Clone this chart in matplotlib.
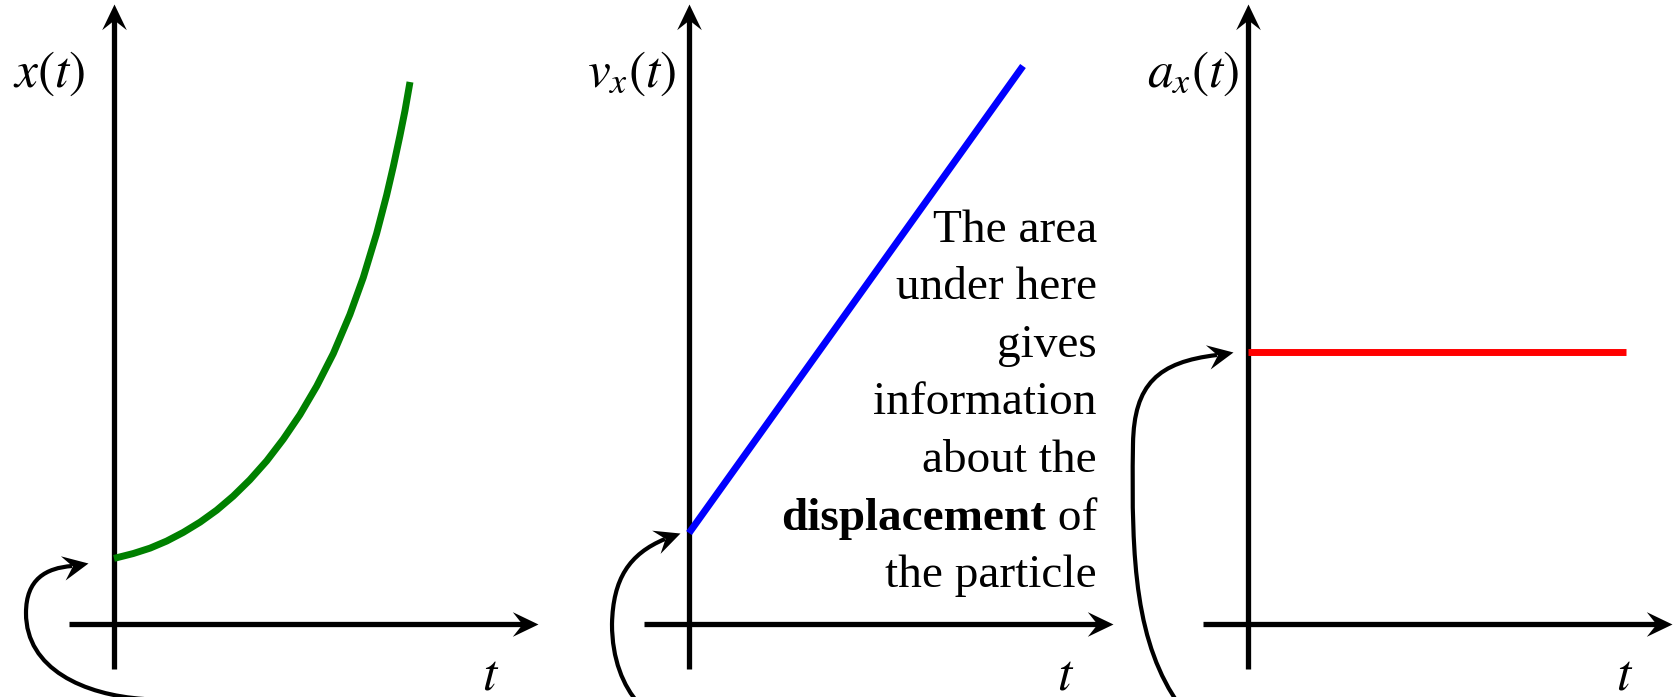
import numpy as np
import matplotlib
matplotlib.use("Agg")
import matplotlib.pyplot as plt
from matplotlib.path import Path
from matplotlib.patches import PathPatch

plt.rcParams['mathtext.fontset'] = 'stix'
plt.rcParams['font.family'] = ['Liberation Serif', 'DejaVu Serif']

# position x(t), points
t_pos = [0.0, 0.065, 0.122, 0.178, 0.234, 0.291, 0.347, 0.403, 0.459, 0.516, 0.572,
         0.628, 0.685, 0.741, 0.797, 0.842, 0.887, 0.921, 0.944, 0.966, 0.983, 1.0]
x_pos = [1.21, 1.30, 1.40, 1.53, 1.69, 1.88, 2.10, 2.36, 2.66, 3.01, 3.41,
         3.86, 4.39, 4.99, 5.71, 6.39, 7.20, 7.91, 8.45, 9.01, 9.47, 10.0]

# velocity v_x(t)
t_vel = [0.0, 1.0]
v_vel = [1.63, 10.0]

# acceleration a_x(t)
t_acc = [0.0, 1.0]
a_acc = [5.0, 5.0]

series_colors = ['green', 'blue', 'red']
y_labels = [r'$x(t)$', r'$v_x(t)$', r'$a_x(t)$']
t_label = r'$t$'

note_lines = ['The area', 'under here', 'gives', 'information', 'about the', ' of', 'the particle']
note_bold = 'displacement'   # goes in front of line 6

# ---- layout (pixels) ----
W, H = 1674, 697
OY = 624
panels = [
    dict(left=0, right=560, ox=114, t_px=296, v_px=54.2, lab_dx=-65),
    dict(left=560, right=1120, ox=689, t_px=334, v_px=55.8, lab_dx=-57),
    dict(left=1120, right=1674, ox=1248, t_px=378, v_px=54.4, lab_dx=-55),
]

# curved arrows, pixel offsets from each panel origin (y up)
curve_arrows = [
    dict(verts=[(30, -75), (-30, -71), (-88, -45), (-88, 11),
                (-88, 45), (-68, 56), (-42, 58)],
         codes=[1, 4, 4, 4, 4, 4, 4], tip=(-26, 61), ang=11),
    dict(verts=[(-50, -80), (-66, -62), (-77, -35), (-77, 0),
                (-76, 45), (-60, 70), (-24, 85)],
         codes=[1, 4, 4, 4, 4, 4, 4], tip=(-9, 91), ang=20),
    dict(verts=[(-68, -82), (-112, -20), (-117, 60), (-115, 180),
                (-114, 240), (-90, 262), (-31, 269)],
         codes=[1, 4, 4, 4, 4, 4, 4], tip=(-15, 272), ang=11),
]

HEAD_MS = 37.0


def head(ax, x, y, ang):
    v = np.array([[0, 0], [-1, 0.48], [-0.62, 0], [-1, -0.48], [0, 0]], float)
    a = np.deg2rad(ang)
    rot = np.array([[np.cos(a), -np.sin(a)], [np.sin(a), np.cos(a)]])
    v = v @ rot.T
    scale = np.abs(v).max()
    p = Path(v, [Path.MOVETO, Path.LINETO, Path.LINETO, Path.LINETO, Path.CLOSEPOLY])
    ax.plot([x], [y], marker=p, ms=HEAD_MS * scale, color='black', mew=0,
            clip_on=False, zorder=5)


fig = plt.figure(figsize=(W / 100, H / 100), dpi=100)
fig.patch.set_facecolor('white')

data = [(t_pos, x_pos), (t_vel, v_vel), (t_acc, a_acc)]

for i, pn in enumerate(panels):
    ax = fig.add_axes([pn['left'] / W, 0, (pn['right'] - pn['left']) / W, 1])
    tp, vp = pn['t_px'], pn['v_px']
    ax.set_xlim((pn['left'] - pn['ox']) / tp, (pn['right'] - pn['ox']) / tp)
    ax.set_ylim(-(H - OY) / vp, OY / vp)
    ax.set_axis_off()

    def d(dx, dy):
        return dx / tp, dy / vp

    # axes with arrowheads
    x0, _ = d(-45, 0)
    x1, _ = d(424 - 14, 0)
    ax.plot([x0, x1], [0, 0], color='black', lw=3.8, solid_capstyle='butt')
    _, y0 = d(0, -45)
    _, y1 = d(0, 620 - 14)
    ax.plot([0, 0], [y0, y1], color='black', lw=3.8, solid_capstyle='butt')
    head(ax, *d(424, 0), 0)
    head(ax, *d(0, 620), 90)

    # series
    tt, vv = data[i]
    ax.plot(tt, vv, color=series_colors[i], lw=5, solid_capstyle='butt',
            solid_joinstyle='round', zorder=3)

    # labels
    ax.text(*d(pn['lab_dx'], 537), y_labels[i], fontsize=37, ha='center', va='baseline')
    ax.text(*d(377, -66), t_label, fontsize=37, ha='center', va='baseline')

    # curved arrow pointing at initial value
    ca = curve_arrows[i]
    verts = [d(*p) for p in ca['verts']]
    ax.add_patch(PathPatch(Path(verts, ca['codes']), fill=False, lw=3,
                           edgecolor='black', capstyle='butt', clip_on=False))
    head(ax, *d(*ca['tip']), ca['ang'])

    if i == 1:
        baselines = [242, 299.5, 357, 414.5, 472, 529.5, 587]
        for k, (line, yb) in enumerate(zip(note_lines, baselines)):
            t = ax.text(*d(408, OY - yb), line, fontsize=34, ha='right', va='baseline')
            if k == 5:
                ax.annotate(note_bold, xy=(0, 0), xycoords=t, fontsize=34,
                            fontweight='bold', ha='right', va='bottom')

fig.savefig('out.png', dpi=100)
